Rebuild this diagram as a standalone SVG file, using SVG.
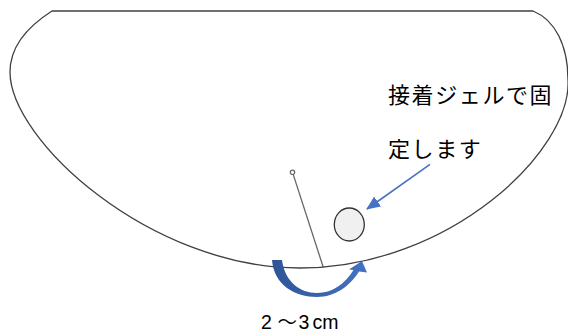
<svg xmlns="http://www.w3.org/2000/svg" width="568" height="332" viewBox="0 0 568 332">
<style>
.outline{fill:#ffffff;stroke:#404040;stroke-width:1.3}
.pin{fill:none;stroke:#666666;stroke-width:1.3}
.lbl{font-family:"Liberation Sans","Noto Sans CJK JP",sans-serif;fill:#000000}
.jp{font-family:"Noto Sans CJK JP",sans-serif;font-size:22px;letter-spacing:1.6px;fill:#000000}
.blue{stroke:#4472C4;stroke-width:1.6;fill:none}
</style>
<defs>
<linearGradient id="g" x1="0" y1="0" x2="1" y2="0">
<stop offset="0" stop-color="#2F5597"/>
<stop offset="1" stop-color="#4472C4"/>
</linearGradient>
<marker id="ah" markerWidth="14" markerHeight="12" refX="13" refY="6" orient="auto" markerUnits="userSpaceOnUse">
<path d="M0,0 L14,6 L0,12 Z" fill="#4472C4"/>
</marker>
</defs>
<g id="body">
<path class="outline" d="M52,11 L533,11 C555,20 568,45 568,80 C572,150 450,268 300,268 C150,268 10,140 10,72 C10,45 30,25 52,11 Z"/>
</g>
<g id="pin">
<line class="pin" x1="293.2" y1="174.4" x2="323.5" y2="268"/>
<circle cx="292.5" cy="172.3" r="2.2" fill="#ffffff" stroke="#666666" stroke-width="1.2"/>
</g>
<g id="gel">
<ellipse cx="349.3" cy="224.5" rx="15" ry="16.5" fill="#F0F0F0" stroke="#333333" stroke-width="1.3"/>
</g>
<g id="label-gel">
<text class="jp" x="388" y="103">接着ジェルで固</text>
<text class="jp" x="388" y="157">定します</text>
</g>
<g id="label-dist">
<text class="lbl" font-size="19.5" y="328.5"><tspan x="261">2</tspan><tspan x="277.5">～</tspan><tspan x="298.5">3</tspan><tspan x="312.5">c</tspan><tspan x="322.3">m</tspan></text>
</g>
<g id="connectors">
<line class="blue" x1="430" y1="164.3" x2="367" y2="209" marker-end="url(#ah)"/>
<path fill="url(#g)" d="M272,260 C274,285 295,297 317,297 C335,297 350,286 359,271.5 L367,272.5 L362,261 L349,269.5 L353.5,270 C345,284 332,293 317,293 C300,293 285,282 282,260 Z"/>
</g>
</svg>
